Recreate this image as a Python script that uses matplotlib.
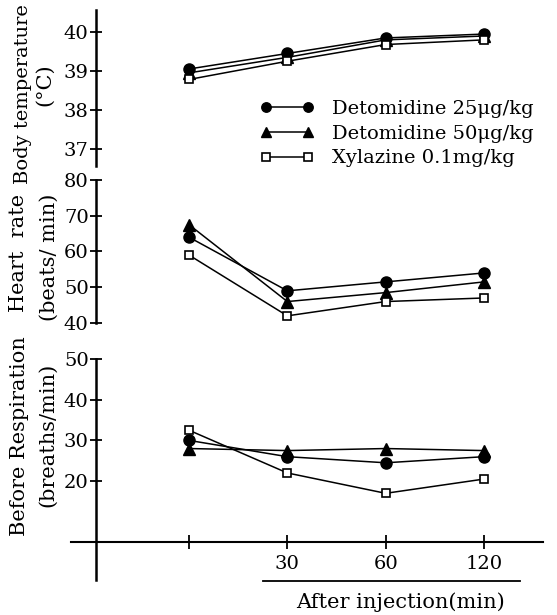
import matplotlib
matplotlib.use("Agg")
import matplotlib.pyplot as plt
from matplotlib.lines import Line2D

plt.rcParams['font.family'] = ['DejaVu Serif']

# time points: before, 30, 60, 120 min
x = [0, 1, 2, 3]
xlabels = ['', '30', '60', '120']

temp_det25 = [39.05, 39.45, 39.85, 39.95]
temp_det50 = [38.95, 39.35, 39.8, 39.9]
temp_xyl = [38.78, 39.25, 39.68, 39.8]

hr_det25 = [64, 49, 51.5, 54]
hr_det50 = [67.5, 46, 48.5, 51.5]
hr_xyl = [59, 42, 46, 47]

resp_det25 = [30, 26, 24.5, 26]
resp_det50 = [28, 27.5, 28, 27.5]
resp_xyl = [32.5, 22, 17, 20.5]

names = ['Detomidine 25\u03bcg/kg', 'Detomidine 50\u03bcg/kg', 'Xylazine 0.1mg/kg']

W, H = 557, 615
fig = plt.figure(figsize=(W / 100, H / 100), dpi=100)


def box(l, t, r, b):
    return [l / W, 1 - b / H, (r - l) / W, (b - t) / H]


ax1 = fig.add_axes(box(71, 10, 543, 166))
ax2 = fig.add_axes(box(71, 180, 543, 323))
ax3 = fig.add_axes(box(71, 359, 543, 580))

styles = [
    dict(marker='o', color='black', mfc='black', ms=8),
    dict(marker='^', color='black', mfc='black', ms=8),
    dict(marker='s', color='black', mfc='white', ms=6, mew=1.2),
]

for ax, series, yl, yt in [
    (ax1, [temp_det25, temp_det50, temp_xyl], (36.55, 40.57), [37, 38, 39, 40]),
    (ax2, [hr_det25, hr_det50, hr_xyl], (40, 80), [40, 50, 60, 70, 80]),
    (ax3, [resp_det25, resp_det50, resp_xyl], (-4.3, 50), [20, 30, 40, 50]),
]:
    for s, st in zip(series, styles):
        ax.plot(x, s, lw=1.1, **st)
    ax.set_xlim(-1.2, 3.6)
    ax.set_ylim(*yl)
    ax.set_yticks(yt)
    ax.patch.set_alpha(0)
    for sp in ['top', 'right']:
        ax.spines[sp].set_visible(False)
    ax.spines['left'].set_position(('data', -0.95))
    ax.spines['left'].set_linewidth(1.8)
    ax.tick_params(axis='y', direction='inout', length=8, width=1.3,
                   labelsize=14, pad=1.0)
    if ax is not ax3:
        ax.spines['bottom'].set_visible(False)
        ax.set_xticks([])

ax3.spines['bottom'].set_position(('data', 5))
ax3.spines['bottom'].set_linewidth(1.5)
ax3.set_xticks(x)
ax3.set_xticklabels(xlabels)
ax3.tick_params(axis='x', direction='inout', length=10, width=1.3,
                labelsize=14, pad=4)

# legend
leg = fig.legend(ax1.lines, names, loc='upper left',
                 bbox_to_anchor=(250 / W, 1 - 90 / H), frameon=False,
                 fontsize=14, handlelength=2.8, handletextpad=0.9,
                 labelspacing=0.35, borderpad=0, numpoints=2, markerscale=0.85)

# y labels
fs = 15
fig.text(23 / W, 1 - 94 / H, 'Body temperature', rotation=90, ha='center', va='center', fontsize=14)
fig.text(45 / W, 1 - 85 / H, '(°C)', rotation=90, ha='center', va='center', fontsize=fs)
fig.text(19 / W, 1 - 253 / H, 'Heart  rate', rotation=90, ha='center', va='center', fontsize=fs)
fig.text(49 / W, 1 - 257 / H, '(beats/ min)', rotation=90, ha='center', va='center', fontsize=fs)
fig.text(20 / W, 1 - 436 / H, 'Before Respiration', rotation=90, ha='center', va='center', fontsize=fs)
fig.text(48 / W, 1 - 435 / H, '(breaths/min)', rotation=90, ha='center', va='center', fontsize=fs)

# x label with underline
fig.add_artist(Line2D([263 / W, 520 / W], [1 - 581 / H, 1 - 581 / H], color='black', lw=1.3))
fig.text(400 / W, 1 - 602 / H, 'After injection(min)', ha='center', va='center', fontsize=fs)

fig.savefig('out.png', dpi=100)
